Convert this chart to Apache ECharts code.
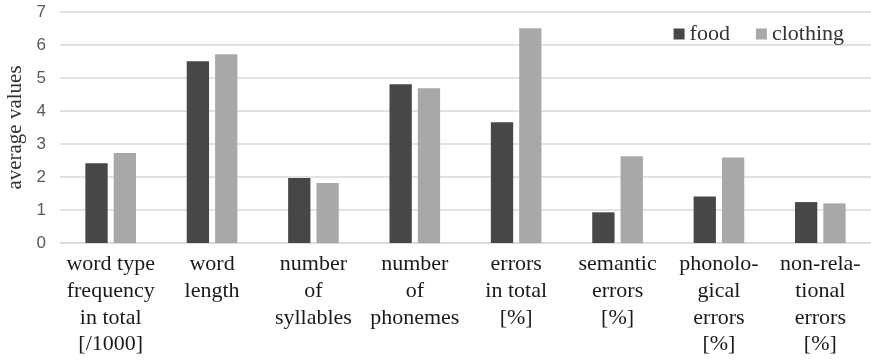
<!DOCTYPE html>
<html>
<head>
<meta charset="utf-8">
<script src="https://cdn.jsdelivr.net/npm/echarts@6/dist/echarts.min.js"></script>
<style>
  html, body { margin: 0; padding: 0; background: #fff; }
  #chart { width: 871px; height: 361px; }
</style>
</head>
<body>
<div id="chart"></div>
<script>
// categories (x axis labels, line breaks as in the original)
var categories = [
    'word type\nfrequency\nin total\n[/1000]',
    'word\nlength',
    'number\nof\nsyllables',
    'number\nof\nphonemes',
    'errors\nin total\n[%]',
    'semantic\nerrors\n[%]',
    'phonolo-\ngical\nerrors\n[%]',
    'non-rela-\ntional\nerrors\n[%]'
];
// series values
var food = [2.42, 5.51, 1.97, 4.81, 3.66, 0.93, 1.41, 1.24];
var clothing = [2.73, 5.72, 1.82, 4.69, 6.51, 2.63, 2.59, 1.20];

var serif = '"Liberation Serif", "Times New Roman", serif';

var chart = echarts.init(document.getElementById('chart'));
chart.setOption({
    animation: false,
    textStyle: { fontFamily: serif },
    color: ['#474747', '#a8a8a8'],
    grid: { left: 60, right: 0, top: 12, bottom: 118, outerBoundsMode: 'none', containLabel: false },
    legend: {
        right: 22,
        top: 18,
        itemWidth: 11,
        itemHeight: 11,
        itemGap: 26,
        itemTextGap: 5,
        icon: 'rect',
        textStyle: { fontFamily: serif, fontSize: 22, color: '#333' },
        data: ['food', 'clothing']
    },
    xAxis: {
        type: 'category',
        data: categories,
        axisLine: { lineStyle: { color: '#d9d9d9', width: 1.5 } },
        axisTick: { show: false },
        axisLabel: {
            interval: 0,
            margin: 8,
            fontFamily: serif,
            fontSize: 22,
            lineHeight: 26.7,
            color: '#1a1a1a'
        }
    },
    yAxis: {
        type: 'value',
        min: 0,
        max: 7,
        interval: 1,
        name: 'average values',
        nameLocation: 'middle',
        nameGap: 22,
        nameTextStyle: { fontFamily: serif, fontSize: 21, color: '#333' },
        axisLine: { show: false },
        axisTick: { show: false },
        axisLabel: {
            margin: 14,
            fontFamily: '"Liberation Sans", Arial, sans-serif',
            fontSize: 17,
            color: '#595959'
        },
        splitLine: { lineStyle: { color: '#d9d9d9', width: 1.5 } }
    },
    series: [
        { name: 'food', type: 'bar', data: food, barWidth: '22%', barGap: '27%' },
        { name: 'clothing', type: 'bar', data: clothing, barWidth: '22%', barGap: '27%' }
    ]
});
</script>
</body>
</html>
